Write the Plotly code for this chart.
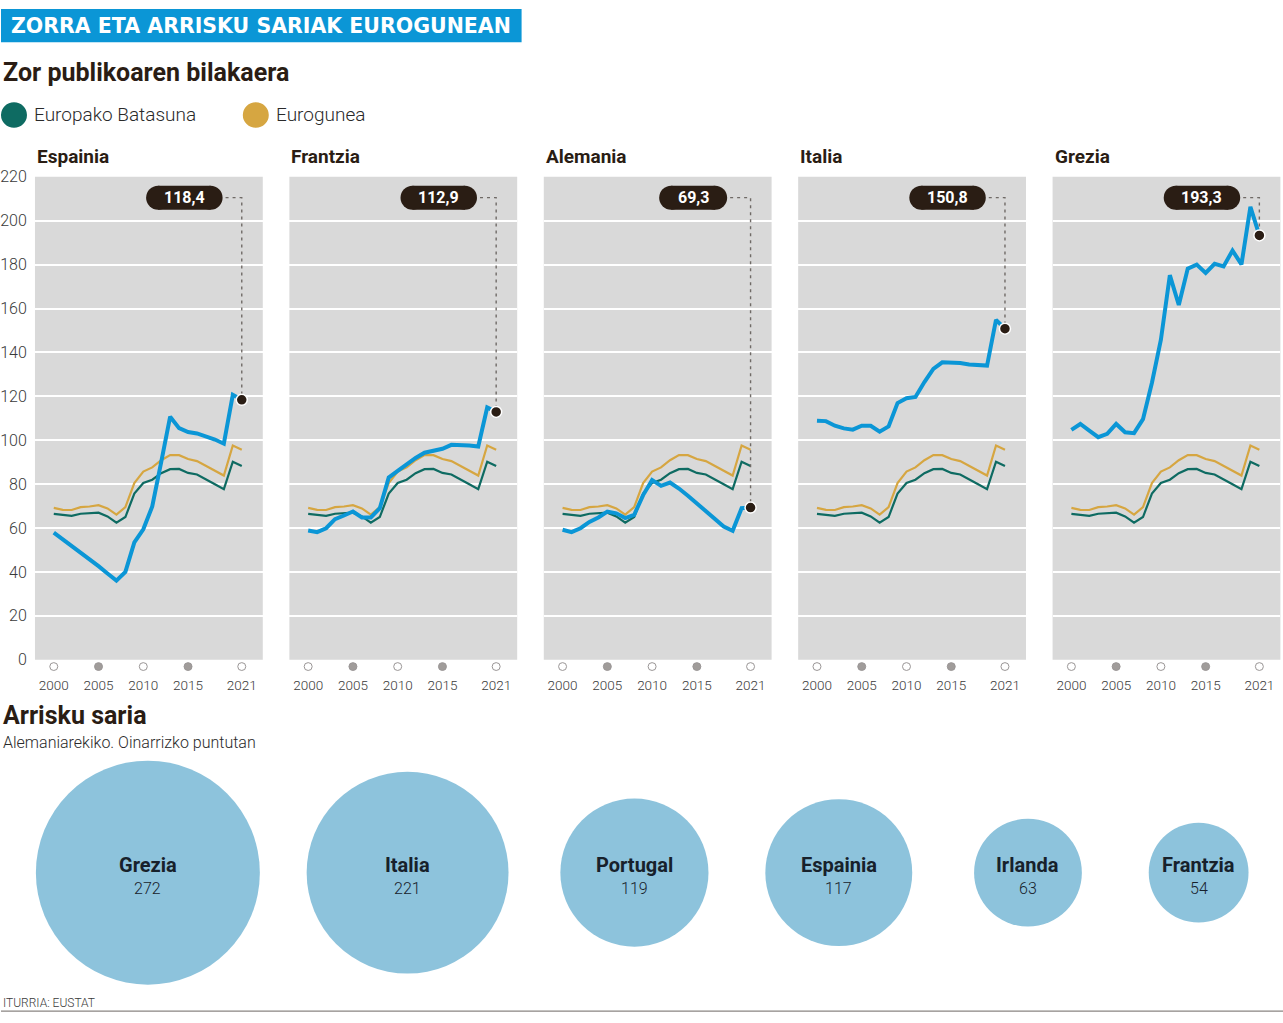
import math
import plotly.graph_objects as go

# ---------------- data ----------------
years = list(range(2000, 2022))
eu_debt = [66.4, 65.8, 65.5, 66.5, 66.8, 67.0, 65.3, 62.4, 65.0, 75.7, 80.5,
           82.0, 85.0, 86.8, 86.9, 85.1, 84.4, 82.0, 79.9, 77.7, 90.2, 88.2]
ez_debt = [69.2, 68.3, 68.2, 69.5, 69.8, 70.4, 68.9, 66.1, 69.5, 80.5, 85.7,
           87.6, 90.9, 93.2, 93.2, 91.4, 90.5, 88.4, 86.2, 83.9, 97.6, 95.7]

countries = ["Espainia", "Frantzia", "Alemania", "Italia", "Grezia"]
spain = [57.9, 54.9, 51.9, 48.5, 45.7, 42.6, 39.3, 36.0, 40.0, 53.4, 59.4,
         69.8, 90.0, 110.7, 105.5, 103.7, 103.1, 101.9, 100.3, 98.4, 120.7, 118.4]
france = [58.9, 58.1, 59.9, 64.0, 65.7, 67.5, 64.8, 64.8, 69.0, 83.0, 86.0,
          89.0, 91.9, 94.3, 95.3, 96.1, 97.9, 97.9, 97.6, 97.1, 114.9, 112.9]
germany = [59.2, 58.1, 59.9, 62.8, 64.8, 67.5, 66.7, 64.5, 66.0, 75.0, 81.8,
           79.2, 80.7, 78.0, 74.7, 71.2, 68.2, 64.2, 60.7, 58.7, 69.0, 69.3]
italy = [108.9, 108.7, 106.6, 105.4, 104.8, 106.6, 106.6, 103.9, 106.3, 116.9, 119.1,
         119.7, 126.5, 132.5, 135.5, 135.5, 135.2, 134.5, 134.2, 134.0, 154.8, 150.8]
greece = [104.7, 107.4, 104.4, 101.4, 102.9, 107.4, 103.6, 103.2, 109.6, 126.2, 145.8,
          175.2, 161.6, 178.2, 180.0, 176.2, 180.4, 179.2, 186.4, 180.1, 206.3, 193.3]
country_debt = [spain, france, germany, italy, greece]

tick_years = [2000, 2005, 2010, 2015, 2021]
tick_filled = [False, True, False, True, False]
y_ticks = list(range(0, 221, 20))

risk_countries = ["Grezia", "Italia", "Portugal", "Espainia", "Irlanda", "Frantzia"]
risk_values = [272, 221, 119, 117, 63, 54]

# ---------------- styles ----------------
W, H = 1283, 1023
BLUE = "#0b96d6"
EU_COL = "#0e6b62"
EZ_COL = "#d6a641"
DARK = "#2a1d14"
BG = "#d9d9d9"
BUBBLE = "#8dc3dc"
FONT = "Roboto"


def px(x):
    return x / W


def py(y):
    return 1 - y / H


PANEL_L = 34
PANEL_W = 228
PANEL_STEP = 254.6
PLOT_TOP = 171
PLOT_BOT = 663
XR = [1997.9, 2023.35]
YR = [0, 220]
PX_PER_YEAR = PANEL_W / (XR[1] - XR[0])
PX_PER_UNIT = (PLOT_BOT - PLOT_TOP) / (YR[1] - YR[0])
PILL_Y = 210.5
PILL_CX = XR[0] + 149.5 / PX_PER_YEAR
PILL_H = 24
TICK_DOT_Y = 670
TICK_DOT_R = 4

fig = go.Figure()
shapes = []
annotations = []
layout_axes = {}

for i, (name, vals) in enumerate(zip(countries, country_debt)):
    n = i + 1
    sfx = "" if n == 1 else str(n)
    xa, ya = "x" + sfx, "y" + sfx
    left = PANEL_L + i * PANEL_STEP

    # grey panel background
    shapes.append(dict(type="rect", xref=xa + " domain", yref=ya + " domain",
                       x0=0, x1=1, y0=0, y1=1, fillcolor=BG, line=dict(width=0),
                       layer="below"))

    fig.add_trace(go.Scatter(x=years, y=ez_debt, mode="lines", xaxis=xa, yaxis=ya,
                             line=dict(color=EZ_COL, width=2.2), showlegend=False,
                             hoverinfo="skip"))
    fig.add_trace(go.Scatter(x=years, y=eu_debt, mode="lines", xaxis=xa, yaxis=ya,
                             line=dict(color=EU_COL, width=2.2), showlegend=False,
                             hoverinfo="skip"))
    fig.add_trace(go.Scatter(x=years, y=vals, mode="lines", xaxis=xa, yaxis=ya,
                             line=dict(color=BLUE, width=4), showlegend=False,
                             hoverinfo="skip"))

    # tick circles below the axis (paper coords, derived from the axis scale)
    for ty, filled in zip(tick_years, tick_filled):
        cxp = left + (ty - XR[0]) * PX_PER_YEAR
        shapes.append(dict(type="circle", xref="paper", yref="paper",
                           x0=px(cxp - TICK_DOT_R), x1=px(cxp + TICK_DOT_R),
                           y0=py(TICK_DOT_Y + TICK_DOT_R), y1=py(TICK_DOT_Y - TICK_DOT_R),
                           fillcolor="#a09c9a" if filled else "white",
                           line=dict(color="#9a9696", width=1)))

    # value label pill
    last = vals[-1]
    label = f"{last:.1f}".replace(".", ",")
    pill_w = 8.5 * len(label) + 34
    pill_right = PILL_CX + (pill_w / 2 + 3) / PX_PER_YEAR
    fig.add_trace(go.Scatter(
        x=[pill_right, years[-1], years[-1]], y=[PILL_Y, PILL_Y, last],
        mode="lines", xaxis=xa, yaxis=ya, showlegend=False, hoverinfo="skip",
        line=dict(color="#6f6a66", width=1.4, dash="3px,4px")))
    fig.add_trace(go.Scatter(
        x=[years[-1]], y=[last], mode="markers", xaxis=xa, yaxis=ya,
        showlegend=False, hoverinfo="skip", cliponaxis=False,
        marker=dict(size=11, color=DARK, line=dict(color="white", width=1.5))))

    common = dict(xref=xa, yref=ya, xsizemode="pixel", ysizemode="pixel",
                  xanchor=PILL_CX, yanchor=PILL_Y, fillcolor=DARK,
                  line=dict(width=0), layer="above")
    shapes.append(dict(type="rect", x0=-pill_w / 2 + PILL_H / 2, x1=pill_w / 2 - PILL_H / 2,
                       y0=-PILL_H / 2, y1=PILL_H / 2, **common))
    shapes.append(dict(type="circle", x0=-pill_w / 2, x1=-pill_w / 2 + PILL_H,
                       y0=-PILL_H / 2, y1=PILL_H / 2, **common))
    shapes.append(dict(type="circle", x0=pill_w / 2 - PILL_H, x1=pill_w / 2,
                       y0=-PILL_H / 2, y1=PILL_H / 2, **common))
    annotations.append(dict(x=PILL_CX, y=PILL_Y, xref=xa, yref=ya, text=label,
                            showarrow=False, xanchor="center", yanchor="middle",
                            font=dict(family=FONT, size=16, color="white", weight="bold")))

    # panel title
    annotations.append(dict(x=px(left), y=py(150), xref="paper", yref="paper",
                            text=name, showarrow=False, xanchor="left", yanchor="middle",
                            font=dict(family=FONT, size=19, color=DARK, weight="bold")))

    layout_axes["xaxis" + sfx] = dict(
        domain=[px(left), px(left + PANEL_W)], range=XR, anchor=ya,
        tickvals=tick_years, ticktext=[str(t) for t in tick_years],
        showgrid=False, zeroline=False, showline=False,
        ticks="outside", ticklen=13, tickcolor="rgba(0,0,0,0)",
        tickfont=dict(family=FONT, size=13.5, color="#3a3a3a", weight=300),
        fixedrange=True)
    layout_axes["yaxis" + sfx] = dict(
        domain=[py(PLOT_BOT), py(PLOT_TOP)], range=YR, anchor=xa,
        tickvals=y_ticks, showticklabels=(n == 1),
        showgrid=True, gridcolor="white", gridwidth=2, zeroline=False, showline=False,
        ticks="outside" if n == 1 else "", ticklen=4, tickcolor="rgba(0,0,0,0)",
        tickfont=dict(family=FONT, size=16, color="#3a3a3a", weight=300),
        fixedrange=True)

# ---------------- bubbles ----------------
K = 6.79
radii = [K * math.sqrt(v) for v in risk_values]
centers = []
for j, r in enumerate(radii):
    if j == 0:
        centers.append(35 + r)
    else:
        gap = 47 + (j - 1) * 5
        centers.append(centers[-1] + radii[j - 1] + gap + r)

fig.add_trace(go.Scatter(
    x=centers, y=[0] * len(centers), mode="markers", xaxis="x6", yaxis="y6",
    showlegend=False, hoverinfo="skip", cliponaxis=False,
    marker=dict(size=[2 * r for r in radii], color=BUBBLE, line=dict(width=0), opacity=1)))
for c, nm, v in zip(centers, risk_countries, risk_values):
    annotations.append(dict(x=c, y=0, xref="x6", yref="y6", text=nm, showarrow=False,
                            yshift=8, xanchor="center", yanchor="middle",
                            font=dict(family=FONT, size=20, color="#17212b", weight="bold")))
    annotations.append(dict(x=c, y=0, xref="x6", yref="y6", text=str(v), showarrow=False,
                            yshift=-16, xanchor="center", yanchor="middle",
                            font=dict(family=FONT, size=16, color="#17212b", weight=300)))

layout_axes["xaxis6"] = dict(domain=[0, 1], range=[0, W], anchor="y6", visible=False,
                             fixedrange=True)
layout_axes["yaxis6"] = dict(domain=[py(1000), py(760)], range=[-1, 1], anchor="x6",
                             visible=False, fixedrange=True)

# ---------------- header texts ----------------
shapes.append(dict(type="rect", xref="paper", yref="paper", x0=0, x1=px(521),
                   y0=py(34), y1=1, fillcolor="#0b96d6", line=dict(width=0), layer="below"))
annotations.append(dict(x=px(8), y=py(17), xref="paper", yref="paper",
                        text="ZORRA ETA ARRISKU SARIAK EUROGUNEAN", showarrow=False,
                        xanchor="left", yanchor="middle",
                        font=dict(family="DejaVu Sans", size=20.5, color="white", weight="bold")))
annotations.append(dict(x=px(0), y=py(65), xref="paper", yref="paper",
                        text="Zor publikoaren bilakaera", showarrow=False,
                        xanchor="left", yanchor="middle",
                        font=dict(family=FONT, size=25, color=DARK, weight="bold")))

# legend
for cx, col, txt in [(13, EU_COL, "Europako Batasuna"), (255, EZ_COL, "Eurogunea")]:
    shapes.append(dict(type="circle", xref="paper", yref="paper",
                       x0=px(cx - 13), x1=px(cx + 13), y0=py(121), y1=py(95),
                       fillcolor=col, line=dict(width=0)))
    annotations.append(dict(x=px(cx + 18), y=py(108), xref="paper", yref="paper",
                            text=txt, showarrow=False, xanchor="left", yanchor="middle",
                            font=dict(family=FONT, size=19, color="#2a2a2a", weight=300)))

annotations.append(dict(x=0, y=py(720), xref="paper", yref="paper", text="Arrisku saria",
                        showarrow=False, xanchor="left", yanchor="middle",
                        font=dict(family=FONT, size=25, color=DARK, weight="bold")))
annotations.append(dict(x=0, y=py(747), xref="paper", yref="paper",
                        text="Alemaniarekiko. Oinarrizko puntutan",
                        showarrow=False, xanchor="left", yanchor="middle",
                        font=dict(family=FONT, size=16, color="#2a2a2a", weight=300)))
annotations.append(dict(x=0, y=py(1013), xref="paper", yref="paper", text="ITURRIA: EUSTAT",
                        showarrow=False, xanchor="left", yanchor="middle",
                        font=dict(family=FONT, size=12, color="#3a3a3a", weight=300)))
shapes.append(dict(type="line", xref="paper", yref="paper", x0=0, x1=1,
                   y0=py(1021), y1=py(1021), line=dict(color="#8a8582", width=1.2)))

fig.update_layout(
    width=W, height=H, autosize=False,
    margin=dict(l=0, r=0, t=0, b=0),
    paper_bgcolor="white", plot_bgcolor="white",
    font=dict(family=FONT, color="#333"),
    shapes=shapes, annotations=annotations, showlegend=False,
    **layout_axes,
)

fig.write_html(
    "out.html",
    config={"displayModeBar": False, "staticPlot": True},
    post_script=(
        "document.documentElement.style.margin='0';"
        "document.documentElement.style.overflow='hidden';"
        "document.body.style.margin='0';document.body.style.padding='0';"
        "document.body.style.overflow='hidden';"
        "var gd=document.getElementById('{plot_id}');"
        "gd.style.position='fixed';gd.style.top='0px';gd.style.left='0px';"
    ),
)
